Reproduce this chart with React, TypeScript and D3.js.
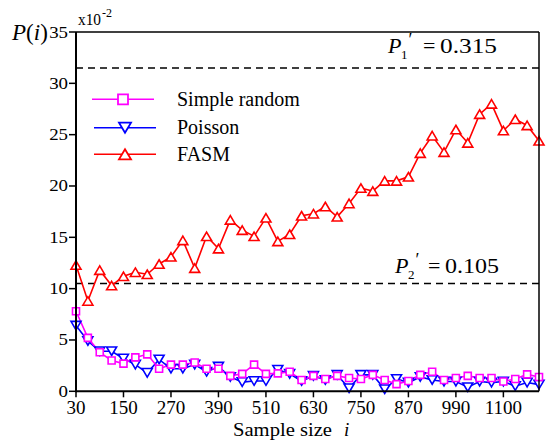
import React from "react";
import * as d3 from "d3";

const sampleSizes = [30, 60, 90, 120, 150, 180, 210, 240, 270, 300, 330, 360, 390, 420, 450, 480, 510, 540, 570, 600, 630, 660, 690, 720, 750, 780, 810, 840, 870, 900, 930, 960, 990, 1020, 1050, 1080, 1110, 1140, 1170, 1200];

const simpleRandom = [7.8, 5.2, 3.8, 3.0, 2.7, 3.3, 3.6, 2.2, 2.6, 2.6, 2.8, 2.2, 2.2, 1.5, 1.7, 2.6, 1.7, 1.75, 1.9, 1.1, 1.5, 1.2, 1.5, 1.3, 1.2, 1.6, 1.1, 0.7, 1.0, 1.6, 1.9, 1.1, 1.3, 1.5, 1.3, 1.3, 0.95, 1.2, 1.65, 1.4];

const poisson = [6.4, 4.9, 3.9, 3.9, 3.2, 2.6, 1.8, 3.1, 2.2, 2.2, 2.6, 1.9, 2.4, 1.4, 0.9, 1.0, 1.0, 2.1, 1.7, 1.0, 1.5, 1.1, 1.6, 0.3, 1.6, 1.6, 0.2, 1.2, 0.85, 1.4, 1.1, 0.95, 0.95, 0.4, 0.95, 0.85, 0.95, 0.5, 0.85, 0.65];

const fasm = [12.3, 8.8, 11.8, 10.3, 11.2, 11.6, 11.4, 12.4, 13.1, 14.7, 12.0, 15.1, 13.9, 16.7, 15.7, 15.1, 16.9, 14.6, 15.3, 17.1, 17.3, 18.0, 17.0, 18.3, 19.8, 19.5, 20.5, 20.5, 20.9, 23.2, 24.9, 23.3, 25.5, 24.2, 27.0, 28.0, 25.4, 26.5, 25.9, 24.4];

const xTickValues = [30, 150, 270, 390, 510, 630, 750, 870, 990, 1110];
const xTickLabels = ["30", "150", "270", "390", "510", "630", "750", "870", "990", "1100"];
const yTickValues = [0, 5, 10, 15, 20, 25, 30, 35];

const threshold1 = 31.5;
const threshold2 = 10.5;

const seriesNames = ["Simple random", "Poisson", "FASM"];

const FONT = "'Liberation Serif', 'Times New Roman', Times, serif";
const MAGENTA = "#ff00ff";
const BLUE = "#0000ff";
const RED = "#ff0000";

const L = 76, R = 539, T = 32, B = 391.3;

function square(cx: number, cy: number, s: number) {
  return `M${cx - s / 2},${cy - s / 2}h${s}v${s}h${-s}Z`;
}
function triUp(cx: number, cy: number, w: number, h: number) {
  return `M${cx},${cy - h / 2}L${cx + w / 2},${cy + h / 2}L${cx - w / 2},${cy + h / 2}Z`;
}
function triDown(cx: number, cy: number, w: number, h: number) {
  return `M${cx},${cy + h / 2}L${cx + w / 2},${cy - h / 2}L${cx - w / 2},${cy - h / 2}Z`;
}

export default function App() {
  const x = d3.scaleLinear().domain([30, 1200]).range([L, R]);
  const y = d3.scaleLinear().domain([0, 35]).range([B, T]);
  const line = d3
    .line<number>()
    .x((_, i) => x(sampleSizes[i]))
    .y((d) => y(d));

  const legendY = [99.3, 127.7, 154.3];

  return (
    <svg
      width={548}
      height={440}
      style={{ position: "absolute", left: 0, top: 0, background: "#fff", fontFamily: FONT }}
    >
      <style>{`text { font-family: ${FONT}; fill: #000; }`}</style>
      <rect x={0} y={0} width={548} height={440} fill="#fff" />
      {/* dashed thresholds */}
      <line x1={L} x2={R} y1={y(threshold1)} y2={y(threshold1)} stroke="#000" strokeWidth={1.5} strokeDasharray="7,5" />
      <line x1={L} x2={R} y1={y(threshold2)} y2={y(threshold2)} stroke="#000" strokeWidth={1.5} strokeDasharray="7,5" />

      {/* threshold labels */}
      <text x={388} y={53} fontSize={22} fontStyle="italic">P</text>
      <text x={401} y={59} fontSize={13}>1</text>
      <text x={408.5} y={46} fontSize={18}>′</text>
      <text x={423} y={53} fontSize={22}>=</text>
      <text x={440} y={53} fontSize={22} textLength={57} lengthAdjust="spacingAndGlyphs">0.315</text>

      <text x={395} y={273} fontSize={22} fontStyle="italic">P</text>
      <text x={408} y={279} fontSize={13}>2</text>
      <text x={415.5} y={266} fontSize={18}>′</text>
      <text x={428} y={273} fontSize={22}>=</text>
      <text x={445} y={273} fontSize={22} textLength={54} lengthAdjust="spacingAndGlyphs">0.105</text>

      {/* series lines */}
      <path d={line(fasm) || ""} fill="none" stroke={RED} strokeWidth={1.6} />
      <path d={line(poisson) || ""} fill="none" stroke={BLUE} strokeWidth={1.6} />
      <path d={line(simpleRandom) || ""} fill="none" stroke={MAGENTA} strokeWidth={1.6} />

      {/* markers */}
      {fasm.map((v, i) => (
        <path key={"f" + i} d={triUp(x(sampleSizes[i]), y(v), 10, 8.5)} fill="#fff" stroke={RED} strokeWidth={1.6} />
      ))}
      {poisson.map((v, i) => (
        <path key={"p" + i} d={triDown(x(sampleSizes[i]), y(v), 10, 8.5)} fill="#fff" stroke={BLUE} strokeWidth={1.6} />
      ))}
      {simpleRandom.map((v, i) => (
        <path key={"s" + i} d={square(x(sampleSizes[i]), y(v), 7)} fill="#fff" stroke={MAGENTA} strokeWidth={1.6} />
      ))}

      {/* frame */}
      <line x1={L} x2={R} y1={T} y2={T} stroke="#000" strokeWidth={1.5} />
      <line x1={R} x2={R} y1={T} y2={B} stroke="#000" strokeWidth={1.5} />
      <line x1={L} x2={R} y1={B} y2={B} stroke="#000" strokeWidth={2} />
      <line x1={L} x2={L} y1={T} y2={B + 1} stroke="#000" strokeWidth={2} />

      {/* y ticks */}
      {yTickValues.map((v) => (
        <g key={"yt" + v}>
          <line x1={L - 7} x2={L} y1={y(v)} y2={y(v)} stroke="#000" strokeWidth={1.5} />
          <g transform={`translate(${L - 8},${y(v) + 5.5}) scale(1.18,1)`}>
            <text x={0} y={0} fontSize={16} textAnchor="end">{String(v)}</text>
          </g>
        </g>
      ))}

      {/* x ticks */}
      {xTickValues.map((v, i) => (
        <g key={"xt" + v}>
          <line x1={x(v)} x2={x(v)} y1={B} y2={B + 6} stroke="#000" strokeWidth={1.5} />
          <text x={x(v)} y={414} fontSize={19} textAnchor="middle">{xTickLabels[i]}</text>
        </g>
      ))}

      {/* axis titles */}
      <text x={12} y={40} fontSize={23}>
        <tspan fontStyle="italic">P</tspan>(<tspan fontStyle="italic">i</tspan>)
      </text>
      <text x={78} y={25} fontSize={17} textLength={23} lengthAdjust="spacingAndGlyphs">x10</text>
      <text x={102} y={17} fontSize={12}>-2</text>
      <text x={233} y={435.5} fontSize={19} textLength={99} lengthAdjust="spacingAndGlyphs">Sample size</text>
      <text x={344} y={435.5} fontSize={19} fontStyle="italic">i</text>

      {/* legend */}
      {seriesNames.map((name, k) => {
        const ly = legendY[k];
        const color = [MAGENTA, BLUE, RED][k];
        const x1 = k === 0 ? 92 : 94;
        const x2 = k === 0 ? 154 : 156;
        const cx = (x1 + x2) / 2;
        const marker =
          k === 0 ? square(cx, ly, 10) : k === 1 ? triDown(cx, ly, 12, 10) : triUp(cx, ly, 12, 10);
        return (
          <g key={"lg" + k}>
            <line x1={x1} x2={x2} y1={ly} y2={ly} stroke={color} strokeWidth={1.6} />
            <path d={marker} fill="#fff" stroke={color} strokeWidth={1.8} />
            <text x={177} y={ly + 6.5} fontSize={20}>{name}</text>
          </g>
        );
      })}
    </svg>
  );
}
